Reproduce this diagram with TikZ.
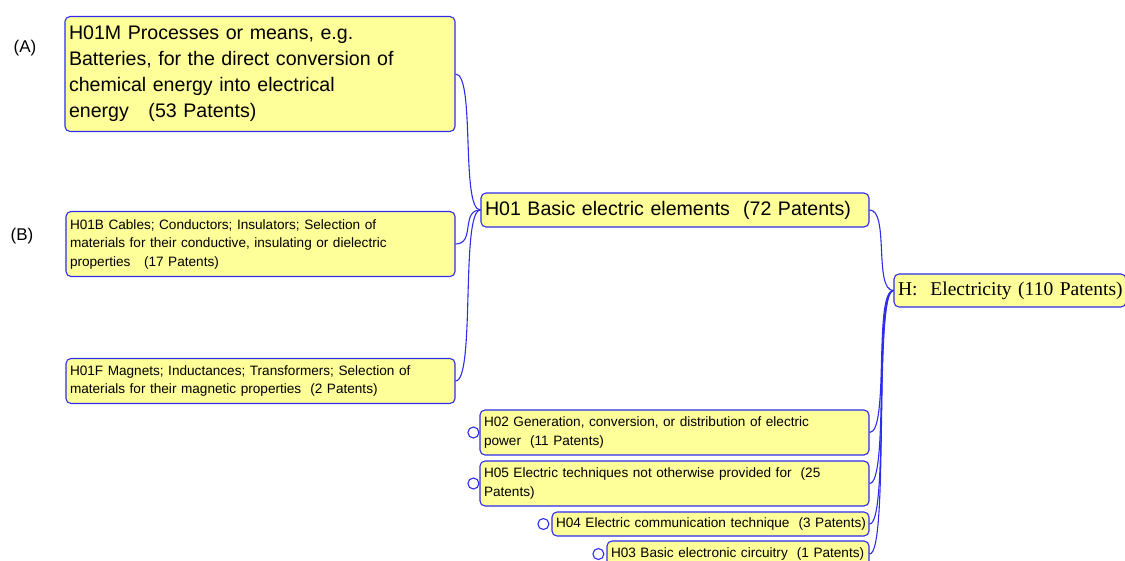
\documentclass[tikz,border=0pt]{standalone}
\usepackage{fontspec}
\setmainfont{Liberation Sans}
\newfontfamily\serifface{Liberation Serif}
\usetikzlibrary{positioning}
\definecolor{topicfill}{RGB}{255,255,153}
\definecolor{topicdraw}{RGB}{45,45,235}
\tikzset{
    topic/.style={
        rectangle,
        rounded corners=5pt,
        draw=topicdraw, line width=1.1pt,
        fill=topicfill,
        inner xsep=4pt, inner ysep=0pt,
        align=left
    },
    bigtext/.style={font={\fontsize{19.6}{26}\selectfont}},
    smalltext/.style={font={\fontsize{13.6}{18.5}\selectfont}},
    fold/.style={
        circle,
        draw=topicdraw, line width=1.1pt,
        fill=white,
        minimum size=11pt, inner sep=0pt
    },
    link/.style={draw=topicdraw, line width=1.1pt}
}

\begin{document}
\begin{tikzpicture}[x=1pt, y=-1pt]
    \useasboundingbox (0,0) rectangle (1125,560);
    \node[topic, bigtext, text width=382pt, minimum height=115pt] (h01m) at (260,74)
        {H01M Processes or means, e.g.\\Batteries, for the direct conversion of\\chemical energy into electrical\\energy\ \ \ (53 Patents)};
    \node[topic, smalltext, text width=381pt, minimum height=65pt] (h01b) at (260.5,244)
        {H01B Cables; Conductors; Insulators; Selection of\\materials for their conductive, insulating or dielectric\\properties\ \ \ (17 Patents)};
    \node[topic, smalltext, text width=381pt, minimum height=45pt] (h01f) at (260.5,381)
        {H01F Magnets; Inductances; Transformers; Selection of\\materials for their magnetic properties\ \ (2 Patents)};
    \node[topic, bigtext, text width=380pt, minimum height=34pt] (h01) at (675,210)
        {\mbox{H01 Basic electric elements\ \ (72 Patents)}};
    \node[topic, font={\serifface\fontsize{19.5}{24}\selectfont}, text width=224pt, minimum height=33pt] (h) at (1010,290.5)
        {\mbox{H:\ \ Electricity (110 Patents)}};
    \node[topic, smalltext, text width=381pt, minimum height=45pt] (h02) at (674.5,432.5)
        {H02 Generation, conversion, or distribution of electric\\power\ \ (11 Patents)};
    \node[topic, smalltext, text width=381pt, minimum height=45pt] (h05) at (674.5,483.5)
        {H05 Electric techniques not otherwise provided for\ \ (25\\Patents)};
    \node[topic, smalltext, text width=309pt, minimum height=24pt] (h04) at (710.5,524)
        {\mbox{H04 Electric communication technique\ \ (3 Patents)}};
    \node[topic, smalltext, text width=254pt, minimum height=26pt] (h03) at (738,554)
        {\mbox{H03 Basic electronic circuitry\ \ (1 Patents)}};
    \node[fold, left=0pt of h02] (h02f) {};
    \node[fold, left=0pt of h05] (h05f) {};
    \node[fold, left=2pt of h04] (h04f) {};
    \node[fold, left=2pt of h03] (h03f) {};
    \node[font={\fontsize{17}{20}\selectfont}] (a) at (25,48) {(A)};
    \node[font={\fontsize{17}{20}\selectfont}] (b) at (22,236) {(B)};
    \draw[link] (h01m.east) .. controls +(20,0) and +(-20,0) .. (h01.west);
    \draw[link] (h01b.east) .. controls +(20,0) and +(-20,0) .. (h01.west);
    \draw[link] (h01f.east) .. controls +(20,0) and +(-20,0) .. (h01.west);
    \draw[link] (h01.east) .. controls +(20,0) and +(-20,0) .. (h.west);
    \draw[link] (h02.east) .. controls +(20,0) and +(-20,0) .. (h.west);
    \draw[link] (h05.east) .. controls +(20,0) and +(-20,0) .. (h.west);
    \draw[link] (h04.east) .. controls +(20,0) and +(-20,0) .. (h.west);
    \draw[link] (h03.east) .. controls +(20,0) and +(-20,0) .. (h.west);
\end{tikzpicture}
\end{document}
